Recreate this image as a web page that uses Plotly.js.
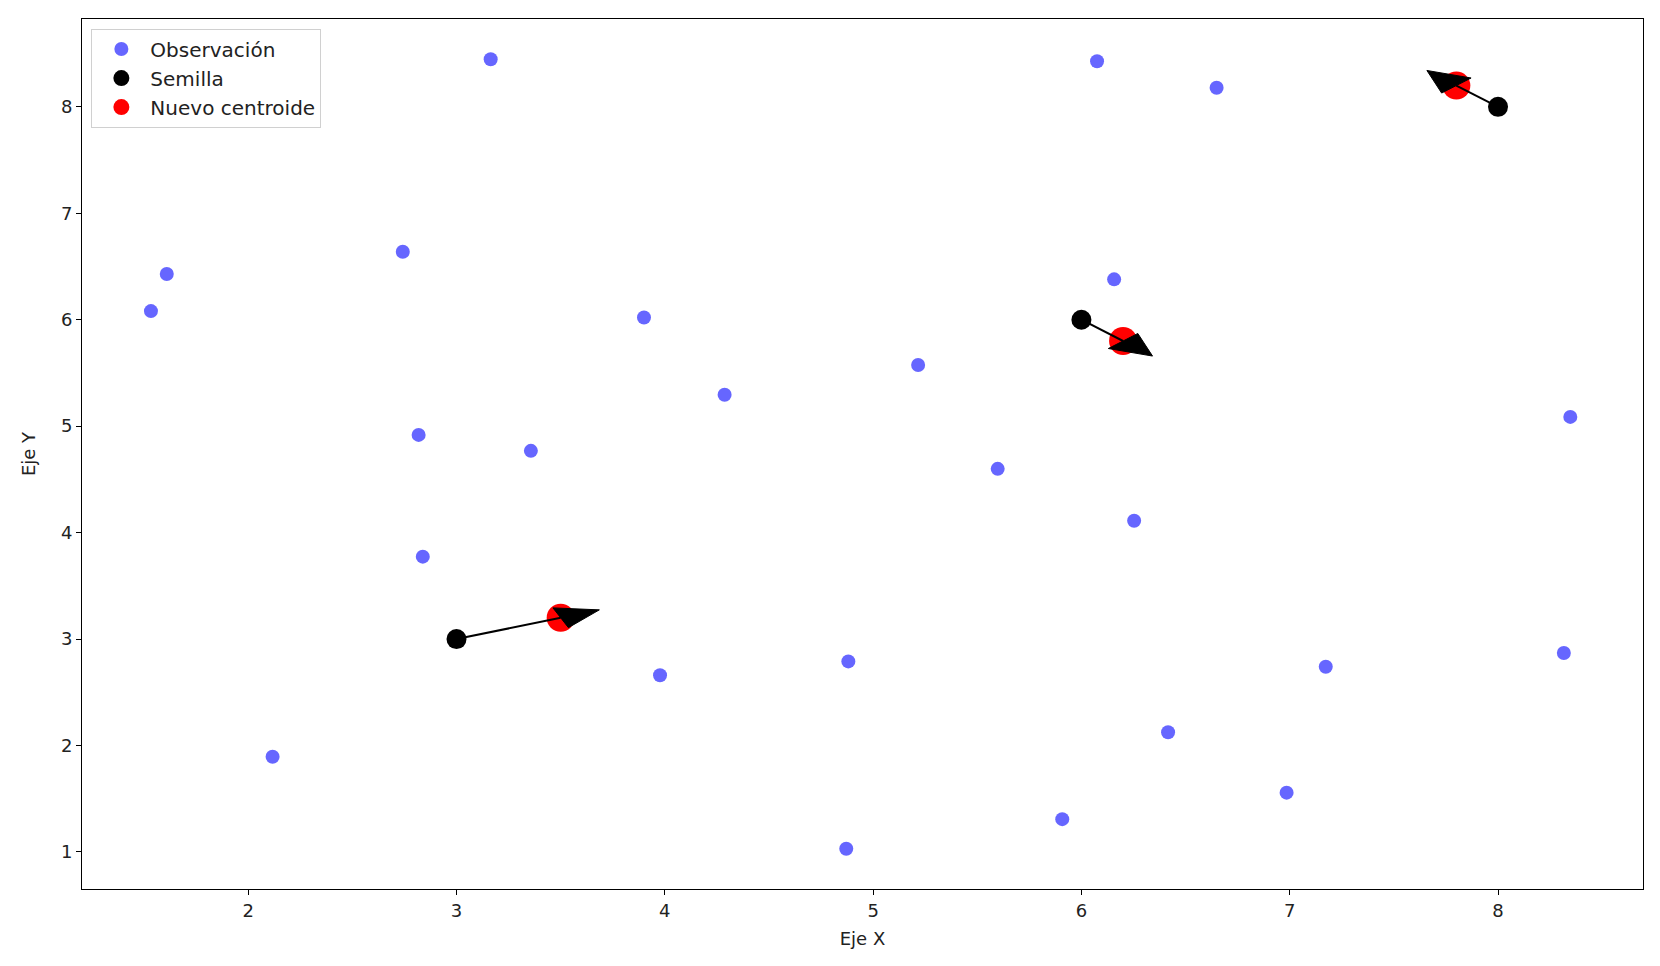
<!DOCTYPE html>
<html>
<head>
<meta charset="utf-8">
<script src="https://cdn.plot.ly/plotly-3.0.1.min.js"></script>
<style>html,body{margin:0;padding:0;background:#fff;}#chart{width:1660px;height:966px;}</style>
</head>
<body>
<div id="chart"></div>
<script>
// Observations
const obsX = [3.164, 6.075, 6.649, 2.742, 1.609, 1.533, 3.900, 6.157, 5.216, 4.287, 8.347, 2.818, 3.357, 5.598, 6.253, 2.838, 3.977, 4.881, 7.173, 8.316, 6.416, 2.117, 6.985, 5.908, 4.871];
const obsY = [8.447, 8.428, 8.179, 6.638, 6.429, 6.081, 6.021, 6.379, 5.574, 5.295, 5.087, 4.918, 4.768, 4.599, 4.112, 3.774, 2.660, 2.790, 2.740, 2.869, 2.124, 1.895, 1.557, 1.308, 1.030];
// Seeds
const seedX = [3, 6, 8];
const seedY = [3, 6, 8];
// New centroids
const centX = [3.5, 6.2, 7.8];
const centY = [3.2, 5.8, 8.2];
// Arrow head size (data units)
const headLength = 0.2;
const headWidth = 0.2;

const FONT = 'DejaVu Sans, sans-serif';
const FS = 18;

const traces = [
  {x: obsX, y: obsY, type: 'scatter', mode: 'markers', name: 'Observación',
   marker: {color: 'rgba(0,0,255,0.6)', size: 14}, legendgroup: 'a'},
  {x: seedX, y: seedY, type: 'scatter', mode: 'markers', name: 'Semilla',
   marker: {color: 'black', size: 20}, legendgroup: 'b'},
  {x: centX, y: centY, type: 'scatter', mode: 'markers', name: 'Nuevo centroide',
   marker: {color: 'red', size: 28}, legendgroup: 'c'}
];

for (let i = 0; i < seedX.length; i++) {
  const dx = centX[i] - seedX[i], dy = centY[i] - seedY[i];
  const L = Math.hypot(dx, dy);
  const ux = dx / L, uy = dy / L;
  const px = -uy, py = ux;
  traces.push({x: [seedX[i], centX[i]], y: [seedY[i], centY[i]], type: 'scatter', mode: 'lines',
    line: {color: 'black', width: 2}, showlegend: false, hoverinfo: 'skip'});
  const tipX = centX[i] + ux * headLength, tipY = centY[i] + uy * headLength;
  traces.push({
    x: [centX[i] + px * headWidth / 2, tipX, centX[i] - px * headWidth / 2, centX[i] + px * headWidth / 2],
    y: [centY[i] + py * headWidth / 2, tipY, centY[i] - py * headWidth / 2, centY[i] + py * headWidth / 2],
    type: 'scatter', mode: 'lines', fill: 'toself', fillcolor: 'black',
    line: {color: 'black', width: 1}, showlegend: false, hoverinfo: 'skip'});
}

const axisCommon = {
  showgrid: false, zeroline: false, showline: true, mirror: true,
  linecolor: 'black', linewidth: 1, ticks: 'outside', ticklen: 5, tickwidth: 1,
  tickcolor: 'black', dtick: 1, tickfont: {family: FONT, size: FS, color: '#222'}
};

const layout = {
  width: 1660, height: 966,
  margin: {l: 82, r: 17, t: 19, b: 77},
  paper_bgcolor: 'white', plot_bgcolor: 'white',
  font: {family: FONT, size: FS, color: '#222'},
  xaxis: Object.assign({}, axisCommon, {range: [1.202, 8.696],
    title: {text: 'Eje X', font: {family: FONT, size: FS, color: '#222'}, standoff: 12}}),
  yaxis: Object.assign({}, axisCommon, {range: [0.652, 8.825], tick0: 1,
    title: {text: 'Eje Y', font: {family: FONT, size: FS, color: '#222'}, standoff: 20}}),
  showlegend: true,
  legend: {x: 0.006, y: 0.989, xanchor: 'left', yanchor: 'top',
    bgcolor: 'rgba(255,255,255,0.8)', bordercolor: '#d0d0d0', borderwidth: 1,
    font: {family: FONT, size: 20, color: '#222'}, traceorder: 'grouped', tracegroupgap: 0,
    itemwidth: 48}
};

Plotly.newPlot('chart', traces, layout, {displayModeBar: false, staticPlot: true});
</script>
</body>
</html>
